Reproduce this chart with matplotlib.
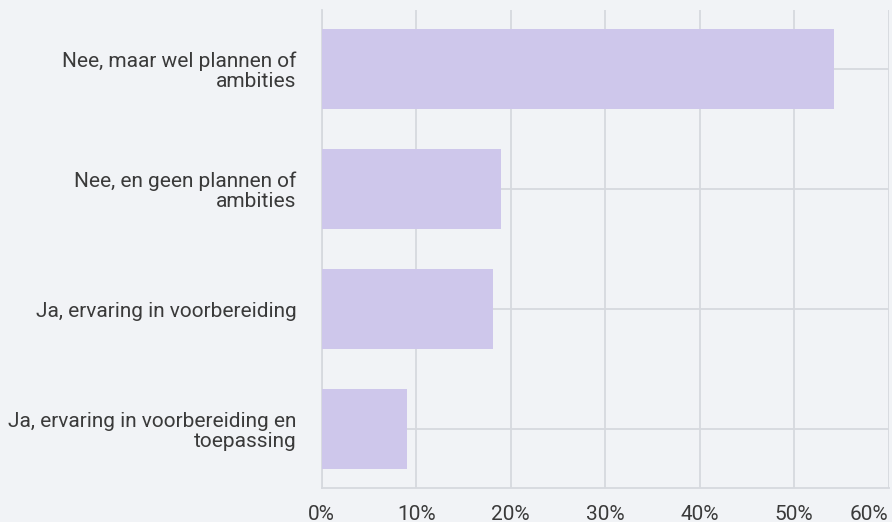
import matplotlib.pyplot as plt
from matplotlib.ticker import FuncFormatter

categories = ['Nee, maar wel plannen of\nambities',
              'Nee, en geen plannen of\nambities',
              'Ja, ervaring in voorbereiding',
              'Ja, ervaring in voorbereiding en\ntoepassing']
values = [54.2, 19.0, 18.1, 9.0]
ticks = [0, 10, 20, 30, 40, 50, 60]

bg = '#f1f3f6'
grid = '#d6d9de'
text = '#3a3a3a'

plt.rcParams['font.family'] = ['Roboto', 'DejaVu Sans']

fig = plt.figure(figsize=(8.92, 5.22), dpi=100, facecolor=bg)
ax = fig.add_axes([0.3607, 0.0651, 0.6356, 0.9157], facecolor=bg)

pos = list(range(len(categories)))[::-1]
ax.barh(pos, values, height=0.667, color='#cec7eb', zorder=3)

ax.set_xlim(0, 60)
ax.set_ylim(-0.49, 3.49)
ax.set_xticks(ticks)
ax.xaxis.set_major_formatter(FuncFormatter(lambda v, p: f'{v:.0f}%'))
ax.set_yticks(pos)
ax.set_yticklabels(categories, ha='right', multialignment='right',
                   linespacing=1.05)
ax.grid(True, color=grid, linewidth=1.3, zorder=0)
ax.set_axisbelow(True)

for s in ['top', 'right']:
    ax.spines[s].set_visible(False)
for s in ['bottom', 'left']:
    ax.spines[s].set_color(grid)
    ax.spines[s].set_linewidth(1.3)

ax.tick_params(axis='both', length=0, labelsize=15, colors=text)
ax.tick_params(axis='y', pad=18)
ax.tick_params(axis='x', pad=12)

# last tick label kept inside the figure
ax.get_xticklabels()[-1].set_horizontalalignment('right')

fig.savefig('out.png', dpi=100, facecolor=bg)
